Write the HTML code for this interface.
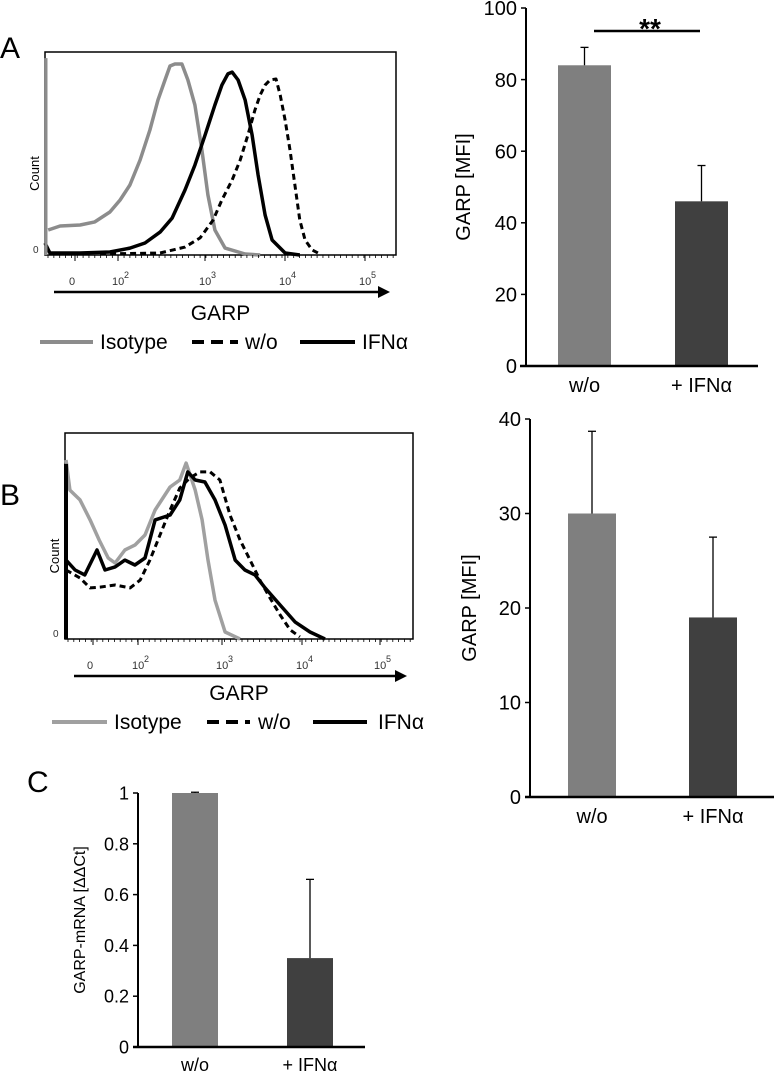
<!DOCTYPE html>
<html><head><meta charset="utf-8">
<style>
html,body{margin:0;padding:0;background:#fff;}
svg{display:block;font-family:"Liberation Sans",Arial,sans-serif;}
</style></head>
<body>
<svg id="fig" width="774" height="1082" viewBox="0 0 774 1082"></svg>
<script>
// ---------- DATA ----------
const histA_iso_x=[.009,.043,.1,.142,.185,.214,.242,.271,.299,.322,.342,.356,.37,.39,.407,.427,.447,.464,.484,.513,.57,.613];
const histA_iso_y=[12.3,14.3,14.8,16.3,21.2,27.1,34.5,46.8,61.6,76.4,86.2,93.1,94.1,94.1,86.2,73.9,51.7,29.6,12.3,3.4,0.5,0];
const histA_ifn_x=[0,.014,.1,.185,.242,.285,.328,.362,.399,.427,.456,.484,.504,.521,.533,.55,.57,.59,.607,.627,.647,.684,.726];
const histA_ifn_y=[5.9,1,1,1.5,3.4,5.9,11.3,18.2,32,44.3,59.1,73.9,83.7,89.2,90.1,86.2,76.4,59.1,39.4,19.7,7.4,1,0];
const histA_wo_x=[.157,.328,.399,.442,.479,.504,.533,.556,.578,.598,.613,.627,.641,.658,.67,.684,.698,.712,.726,.741,.761,.783];
const histA_wo_y=[.5,1,3.9,8.4,17.2,27.1,36.9,46.8,59.1,71.4,78.8,83.7,86.2,86.7,78.8,66.5,51.7,34.5,17.2,7.4,2.5,.5];
const histB_iso_x=[.003,.014,.043,.072,.098,.124,.144,.172,.201,.23,.259,.302,.33,.348,.374,.394,.411,.431,.46,.503];
const histB_iso_y=[86.9,72.3,67.5,57.8,48.1,39.3,36.9,43.2,45.6,50.5,62.6,73.8,77.2,85.4,72.3,57.8,38.3,18.9,3.4,0];
const histB_ifn_x=[.003,.029,.057,.092,.115,.144,.172,.201,.23,.259,.302,.33,.353,.374,.402,.431,.46,.489,.517,.546,.575,.618,.661,.704,.747];
const histB_ifn_y=[38.3,33.5,31.1,43.2,33.5,35,38.3,35.9,39.3,57.8,60.2,67.5,81.1,77.2,76.2,67.5,55.3,38.3,33.5,31.1,24.8,16.5,8.3,3.4,0];
const histB_wo_x=[.003,.043,.072,.101,.144,.187,.216,.244,.273,.302,.33,.359,.388,.417,.445,.474,.503,.532,.56,.589,.618,.647,.675];
const histB_wo_y=[33.5,29.6,24.8,25.2,26.2,24.8,28.6,38.3,50.5,62.6,73.3,78.2,81.1,81.1,77.2,60.2,48.1,38.3,28.6,19.9,11.7,4.4,1];
const histTickLabels=["0","2","3","4","5"];
const barCats=["w/o","+ IFNα"];
const barA_vals=[84,46];
const barA_err=[89,56];
const barA_ticks=[0,20,40,60,80,100];
const barB_vals=[30,19];
const barB_err=[38.7,27.5];
const barB_ticks=[0,10,20,30,40];
const barC_vals=[1,0.35];
const barC_err=[1.003,0.66];
const barC_ticks=[0,0.2,0.4,0.6,0.8,1];
const barColors=["#7f7f7f","#404040"];

const NS="http://www.w3.org/2000/svg";
const svg=document.getElementById('fig');
function mk(tag,attrs,parent,text){const e=document.createElementNS(NS,tag);for(const k in attrs)e.setAttribute(k,attrs[k]);if(text!==undefined)e.textContent=text;(parent||svg).appendChild(e);return e;}

[["A",0,58],["B",0,505],["C",27,792]].forEach(([t,x,y])=>{
 const e=mk('text',{x:x,y:y,'font-size':30},svg,t);
 
 
});

function histogram(id,box,series,tickX,arrowY,garpY,legY,leg){
 const g=mk('g',{});
 
 
 const {x0,x1,y0,y1}=box;
 const sx=f=>x0+f*(x1-x0), sy=v=>y1-v/100*(y1-y0);
 const frame=mk('rect',{x:x0,y:y0,width:x1-x0,height:y1-y0,fill:'none',stroke:'#000','stroke-width':1.5},g);
 
 
 series.forEach(s=>{
  const pts=s.x.map((f,i)=>sx(f).toFixed(1)+','+sy(s.y[i]).toFixed(1)).join(' ');
  const p=mk('polyline',{points:pts,fill:'none',stroke:s.c,'stroke-width':s.w,'stroke-dasharray':s.d||'none','stroke-linejoin':'round'},g);
  
  
 });
 series.forEach(s=>{ if(s.spike){const l=mk('line',{x1:x0+1,y1:sy(s.spike),x2:x0+1,y2:y1,stroke:s.c,'stroke-width':s.sw||3},g);
  
  }});
 for(let x=x0+3;x<x1;x+=(x1-x0)/60){mk('line',{x1:x,y1:y1,x2:x,y2:y1+3,stroke:'#000','stroke-width':0.8},g);}
 tickX.forEach((tx,i)=>{
  mk('line',{x1:tx,y1:y1,x2:tx,y2:y1+6,stroke:'#000','stroke-width':1},g);
  const lbl=i===0?'0':'10';
  const t=mk('text',{x:tx-6,y:y1+30,'font-size':11,fill:'#333'},g,lbl);
  
  
  if(i>0){const s=mk('text',{x:tx+6,y:y1+23,'font-size':9,fill:'#333'},g,histTickLabels[i]);
   
   }
 });
 const z=mk('text',{x:x0-12,y:y1-2,'font-size':10,fill:'#333'},g,'0');
 
 
 const c=mk('text',{x:0,y:0,'font-size':13,transform:`translate(${x0-6},${(y0+y1)/2+20}) rotate(-90)`,'text-anchor':'middle'},g,'Count');
 
 
 const ar=mk('line',{x1:x0+9,y1:arrowY,x2:x1-16,y2:arrowY,stroke:'#000','stroke-width':2.5},g);
 
 
 mk('polygon',{points:`${x1-18},${arrowY-6} ${x1-6},${arrowY} ${x1-18},${arrowY+6}`,fill:'#000'},g);
 const gt=mk('text',{x:(x0+x1)/2,y:garpY,'font-size':21,'text-anchor':'middle'},g,'GARP');
 
 
 leg.forEach(L=>{
  const li=mk('line',{x1:L.x1,y1:legY,x2:L.x2,y2:legY,stroke:L.c,'stroke-width':4,'stroke-dasharray':L.d||'none'},g);
  
  
  const lt=mk('text',{x:L.tx,y:legY+7,'font-size':21},g,L.t);
  
  
 });
}

histogram('histogram-a',{x0:45,x1:396,y0:52,y1:255},[
 {n:'isotype',x:histA_iso_x,y:histA_iso_y,c:'#8c8c8c',w:3.5,spike:97,sw:3},
 {n:'ifn',x:histA_ifn_x,y:histA_ifn_y,c:'#000',w:3.5},
 {n:'wo',x:histA_wo_x,y:histA_wo_y,c:'#000',w:3,d:'6,4'}
],[75,118,205,285,365],292,320,342,[
 {n:'isotype',x1:40,x2:93,c:'#8c8c8c',tx:100,t:'Isotype'},
 {n:'wo',x1:192,x2:238,c:'#000',d:'12,7',tx:245,t:'w/o'},
 {n:'ifn',x1:300,x2:355,c:'#000',tx:362,t:'IFNα'}
]);
histogram('histogram-b',{x0:65,x1:413,y0:433,y1:639},[
 {n:'isotype',x:histB_iso_x,y:histB_iso_y,c:'#a0a0a0',w:3.5},
 {n:'ifn',x:histB_ifn_x,y:histB_ifn_y,c:'#000',w:3.5,spike:85,sw:4},
 {n:'wo',x:histB_wo_x,y:histB_wo_y,c:'#000',w:3,d:'6,4'}
],[93,138,222,302,380],676,700,722,[
 {n:'isotype',x1:52,x2:107,c:'#a0a0a0',tx:114,t:'Isotype'},
 {n:'wo',x1:207,x2:250,c:'#000',d:'12,7',tx:258,t:'w/o'},
 {n:'ifn',x1:313,x2:367,c:'#000',tx:378,t:'IFNα'}
]);

function barChart(id,o){
 const g=mk('g',{});
 
 
 const max=o.ticks[o.ticks.length-1];
 const sy=v=>o.yb-v/max*(o.yb-o.yt);
 const ya=mk('line',{x1:o.ax,y1:o.yt,x2:o.ax,y2:o.yb,stroke:'#000','stroke-width':2},g);
 
 
 o.ticks.forEach(t=>{
  mk('line',{x1:o.ax-5,y1:sy(t),x2:o.ax,y2:sy(t),stroke:'#000','stroke-width':1.5},g);
  const tl=mk('text',{x:o.ax-9,y:sy(t)+o.fs*0.36,'font-size':o.fs,'text-anchor':'end'},g,String(t));
  
  
 });
 o.vals.forEach((v,i)=>{
  const bx=o.bx[i];
  const r=mk('rect',{x:bx,y:sy(v),width:o.bw,height:o.yb-sy(v),fill:barColors[i]},g);
  
  
  const cx=bx+o.bw/2;
  const eb=mk('line',{x1:cx,y1:sy(v),x2:cx,y2:sy(o.err[i]),stroke:'#000','stroke-width':1.3},g);
  
  
  mk('line',{x1:cx-4,y1:sy(o.err[i]),x2:cx+4,y2:sy(o.err[i]),stroke:'#000','stroke-width':1.3},g);
  const cl=mk('text',{x:cx,y:o.yb+o.fs+6,'font-size':o.fs,'text-anchor':'middle'},g,barCats[i]);
  
  
 });
 const xa=mk('line',{x1:o.xl,y1:o.yb,x2:o.xr,y2:o.yb,stroke:'#000','stroke-width':2.5},g);
 
 
 const yt=mk('text',{x:0,y:0,'font-size':o.tfs,'text-anchor':'middle',transform:`translate(${o.tx},${(o.yt+o.yb)/2}) rotate(-90)`},g,o.title);
 
 
 return {g,sy};
}

const A=barChart('bar-chart-a',{ax:526,yt:8,yb:366,xl:520,xr:758,bx:[558,675],bw:53,vals:barA_vals,err:barA_err,ticks:barA_ticks,fs:20,tfs:20,tx:470,title:'GARP [MFI]'});
const sig=mk('line',{x1:594,y1:31,x2:700,y2:31,stroke:'#000','stroke-width':2.5},A.g);


const st=mk('text',{x:650,y:38,'font-size':28,'text-anchor':'middle','font-weight':'bold'},A.g,'**');


barChart('bar-chart-b',{ax:530,yt:419,yb:797,xl:525,xr:774,bx:[568,689],bw:48,vals:barB_vals,err:barB_err,ticks:barB_ticks,fs:20,tfs:20,tx:476,title:'GARP [MFI]'});
barChart('bar-chart-c',{ax:138,yt:793,yb:1047,xl:133,xr:365,bx:[172,287],bw:46,vals:barC_vals,err:barC_err,ticks:barC_ticks,fs:18,tfs:16,tx:85,title:'GARP-mRNA  [ΔΔCt]'});
</script>
</body></html>
